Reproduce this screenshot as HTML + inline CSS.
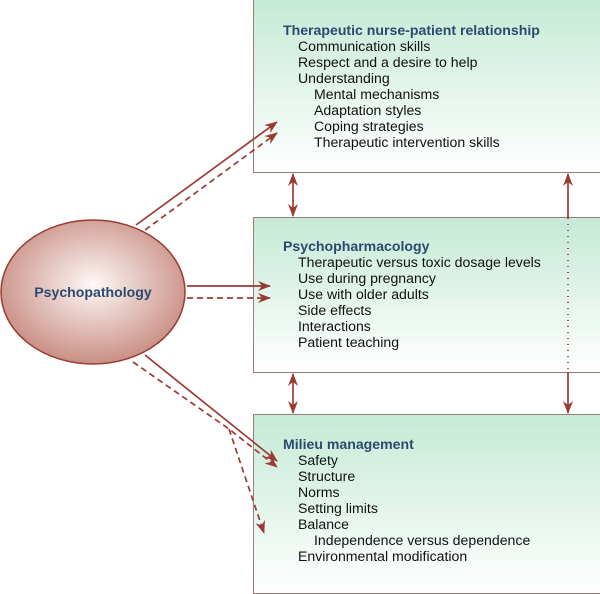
<!DOCTYPE html>
<html><head><style>
body{margin:0;width:600px;height:588px;background:#fff;overflow:hidden;position:relative;font-family:"Liberation Sans",sans-serif}
.box{position:absolute;left:253px;width:350px;border:1.5px solid #a07a76;background:linear-gradient(#c5ead6,#ffffff);box-sizing:border-box}
.t{position:absolute;font-size:14.1px;color:#111;white-space:nowrap;line-height:16px}
.h{color:#2b4a6e;font-weight:bold}
</style></head><body>
<div class="box" style="top:-2px;height:175px"></div>
<div class="box" style="top:217px;height:156px"></div>
<div class="box" style="top:414px;height:180px"></div>
<svg width="600" height="588" style="position:absolute;left:0;top:0">
<defs>
<radialGradient id="g" cx="50%" cy="45%" r="55%"><stop offset="0" stop-color="#fdf8f6"/><stop offset="1" stop-color="#c98f84"/></radialGradient>
<marker id="a" markerWidth="13" markerHeight="10" refX="12" refY="5" orient="auto" markerUnits="userSpaceOnUse"><path d="M0,0L13,5L0,10L4,5z" fill="#9b3a32"/></marker>
<marker id="b" markerWidth="13" markerHeight="10" refX="1" refY="5" orient="auto" markerUnits="userSpaceOnUse"><path d="M13,0L0,5L13,10L9,5z" fill="#9b3a32"/></marker>
</defs>
<ellipse cx="93" cy="292" rx="92" ry="72" fill="url(#g)" stroke="#9b3a32" stroke-width="1.5"/>
<g stroke="#9b3a32" stroke-width="1.7" fill="none">
<line x1="136" y1="225" x2="277" y2="122" marker-end="url(#a)"/>
<line x1="145" y1="230" x2="277" y2="133" stroke-dasharray="6,4" marker-end="url(#a)"/>
<line x1="187" y1="286" x2="270" y2="286" marker-end="url(#a)"/>
<line x1="187" y1="298" x2="270" y2="298" stroke-dasharray="6,4" marker-end="url(#a)"/>
<line x1="145" y1="355" x2="277" y2="461" marker-end="url(#a)"/>
<polyline points="133,362 229,429 277,467" stroke-dasharray="6,4" marker-end="url(#a)"/>
<line x1="229" y1="429" x2="264" y2="533" stroke-dasharray="6,4" marker-end="url(#a)"/>
<line x1="293" y1="174" x2="293" y2="216" marker-start="url(#b)" marker-end="url(#a)"/>
<line x1="293" y1="374" x2="293" y2="413" marker-start="url(#b)" marker-end="url(#a)"/>
<line x1="568" y1="174" x2="568" y2="218" marker-start="url(#b)"/>
<line x1="568" y1="218" x2="568" y2="372" stroke-dasharray="1,5"/>
<line x1="568" y1="372" x2="568" y2="413" marker-end="url(#a)"/>
</g>
<text x="93" y="297" text-anchor="middle" font-family="Liberation Sans" font-weight="bold" font-size="14.1" fill="#2b4a6e">Psychopathology</text>
</svg>
<div class="t h" style="left:283px;top:22px">Therapeutic nurse-patient relationship</div>
<div class="t" style="left:298px;top:38px">Communication skills<br>Respect and a desire to help<br>Understanding</div>
<div class="t" style="left:314px;top:86px">Mental mechanisms<br>Adaptation styles<br>Coping strategies<br>Therapeutic intervention skills</div>
<div class="t h" style="left:283px;top:238px">Psychopharmacology</div>
<div class="t" style="left:298px;top:254px">Therapeutic versus toxic dosage levels<br>Use during pregnancy<br>Use with older adults<br>Side effects<br>Interactions<br>Patient teaching</div>
<div class="t h" style="left:283px;top:436px">Milieu management</div>
<div class="t" style="left:298px;top:452px">Safety<br>Structure<br>Norms<br>Setting limits<br>Balance</div>
<div class="t" style="left:314px;top:532px">Independence versus dependence</div>
<div class="t" style="left:298px;top:548px">Environmental modification</div>
</body></html>
